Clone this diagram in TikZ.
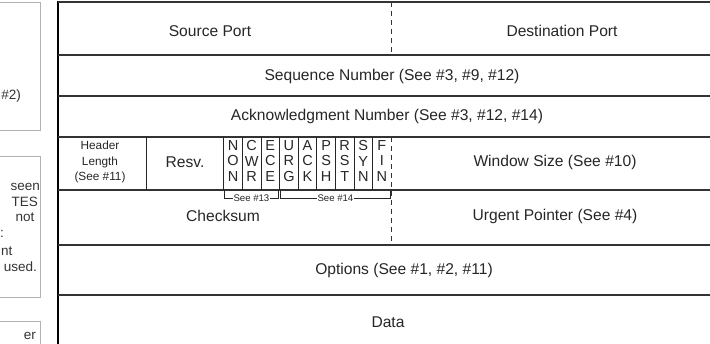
\documentclass[tikz,border=0pt]{standalone}
\usepackage{fontspec}
\setmainfont{Liberation Sans}
\usetikzlibrary{positioning}

\begin{document}
\begin{tikzpicture}[x=1pt, y=-1pt,
  font=\fontsize{15.6}{18}\selectfont, node distance=0pt,
  rowline/.style={draw=black!80, line width=1.3pt},
  half/.style={draw=black!80, line width=1.1pt, dash pattern=on 5pt off 4pt},
  sep/.style={draw=black!85, line width=0.9pt},
  note/.style={draw=black!30, line width=1pt},
  notetxt/.style={anchor=east, inner sep=0pt, text=black!80, font=\fontsize{13.5}{15}\selectfont},
  field/.style={inner sep=0pt, text=black!85},
  small/.style={field, align=center, font=\fontsize{11.8}{15.5}\selectfont},
  flag/.style={field, align=center, minimum width=18.2pt, minimum height=53pt, font=\fontsize{14.5}{15.5}\selectfont},
  brk/.style={draw=black!85, line width=0.7pt},
  brklbl/.style={fill=white, inner sep=1pt, text=black!85, font=\fontsize{9.6}{10}\selectfont}]
  \useasboundingbox (0,0) rectangle (710,344);
  \clip (0,0) rectangle (710,344);

  % notes at the left, cut off by the frame
  \draw[note] (-30,3) rectangle (40.5,131);
  \draw[note] (-30,157) rectangle (40.5,298);
  \draw[note] (-30,322) rectangle (40.5,380);
  \node[notetxt] (note1a) at (21,96) {\#2)};
  \node[notetxt] (note2a) at (40,187) {seen};
  \node[notetxt] (note2b) at (38,202) {TES};
  \node[notetxt] (note2c) at (34.5,217) {not};
  \node[notetxt] (note2d) at (4,234) {:};
  \node[notetxt] (note2e) at (12.5,251) {nt};
  \node[notetxt] (note2f) at (37,267) {used.};
  \node[notetxt] (note3a) at (36,336) {er};

  % header frame
  \draw[line width=1.6pt] (58,1) -- (58,350);
  \draw[rowline] (58,2) -- (720,2);
  \draw[rowline] (58,55) -- (720,55);
  \draw[rowline] (58,96) -- (720,96);
  \draw[rowline] (58,137) -- (720,137);
  \draw[rowline] (58,190) -- (720,190);
  \draw[rowline] (58,245) -- (720,245);
  \draw[rowline] (58,295) -- (720,295);
  \coordinate (r4top) at (0,137);
  \coordinate (r4bot) at (0,190);
  \coordinate (brky) at (0,198);

  % fields
  \node[field] (srcport) at (210,31) {Source Port};
  \node[field] (dstport) at (562,31) {Destination Port};
  \node[field] (seqnum) at (392,76) {Sequence Number (See \#3, \#9, \#12)};
  \node[field] (acknum) at (387,116) {Acknowledgment Number (See \#3, \#12, \#14)};
  \node[small] (hdrlen) at (100,162) {Header\\Length\\(See \#11)};
  \node[field] (resv) at (185,162) {Resv.};
  \node[flag] (fNS) at (233.1,161) {N\\O\\N};
  \node[flag, right=of fNS] (fCWR) {C\\W\\R};
  \node[flag, right=of fCWR] (fECE) {E\\C\\E};
  \node[flag, right=of fECE] (fURG) {U\\R\\G};
  \node[flag, right=of fURG] (fACK) {A\\C\\K};
  \node[flag, right=of fACK] (fPSH) {P\\S\\H};
  \node[flag, right=of fPSH] (fRST) {R\\S\\T};
  \node[flag, right=of fRST] (fSYN) {S\\Y\\N};
  \node[flag, right=of fSYN] (fFIN) {F\\I\\N};
  \node[field] (winsize) at (555,162) {Window Size (See \#10)};
  \node[field] (checksum) at (223,216) {Checksum};
  \node[field] (urgptr) at (555,216) {Urgent Pointer (See \#4)};
  \node[field] (options) at (404,270) {Options (See \#1, \#2, \#11)};
  \node[field] (data) at (388,322) {Data};

  \draw[sep] (146,137) -- (146,190);
  \foreach \f in {fNS,fCWR,fECE,fURG,fACK,fPSH,fRST,fSYN,fFIN}
    \draw[sep] (\f.west |- r4top) -- (\f.west |- r4bot);
  \draw[half] (fFIN.east |- 0,2) -- (fFIN.east |- 0,55);
  \draw[half] (fFIN.east |- r4top) -- (fFIN.east |- 0,245);

  % notes on the flags
  \draw[brk] ([xshift=0.5pt]fNS.west |- r4bot) |- node[brklbl, pos=0.75] (see13) {See \#13} ([xshift=-1pt]fECE.east |- brky) -- ([xshift=-1pt]fECE.east |- r4bot);
  \draw[brk] ([xshift=1pt]fURG.west |- r4bot) |- node[brklbl, pos=0.75] (see14) {See \#14} ([xshift=-1pt]fFIN.east |- brky) -- ([xshift=-1pt]fFIN.east |- r4bot);
\end{tikzpicture}
\end{document}
